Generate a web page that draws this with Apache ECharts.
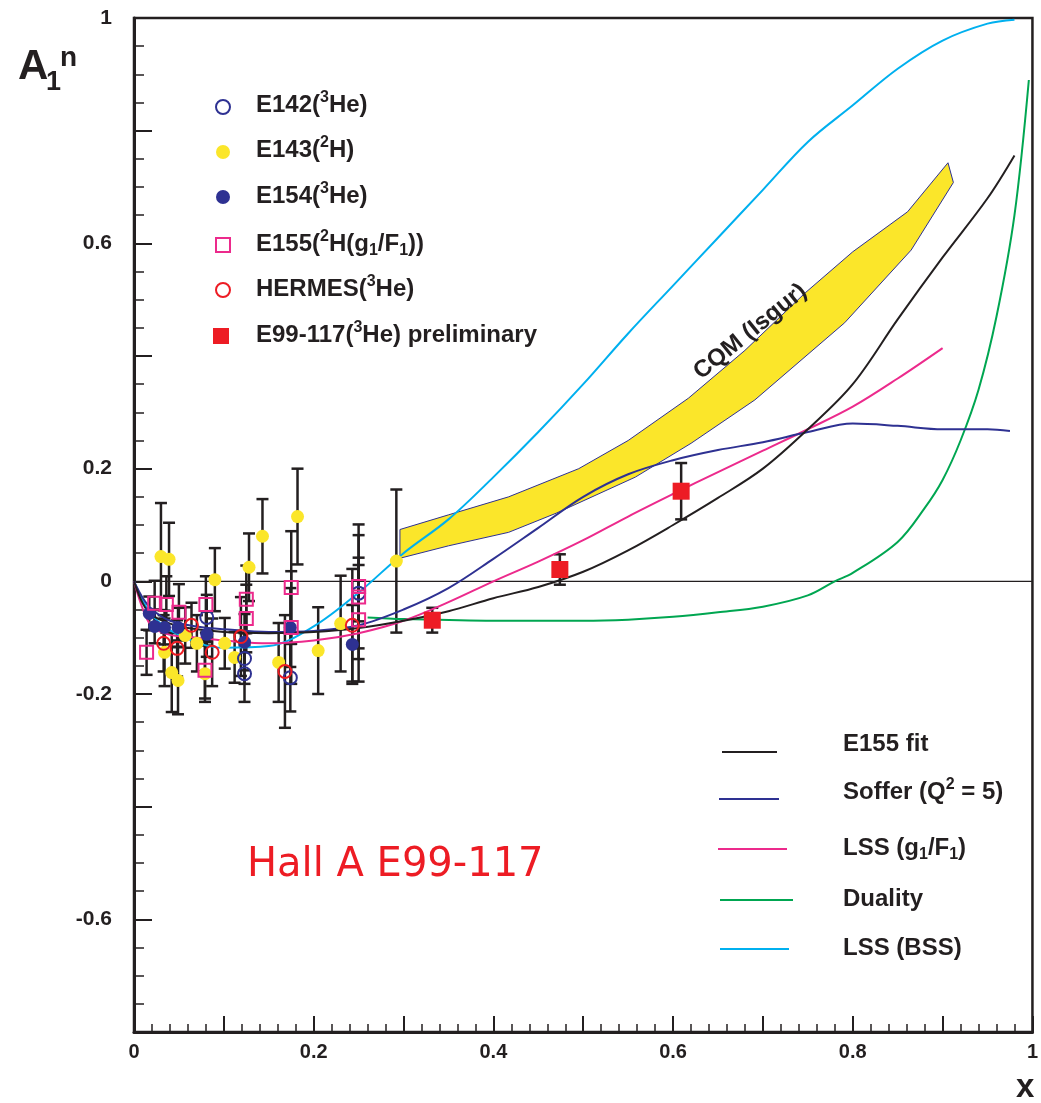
<!DOCTYPE html>
<html>
<head>
<meta charset="utf-8">
<title>A1n vs x</title>
<script src="https://cdn.jsdelivr.net/npm/echarts@6/dist/echarts.min.js"></script>
<style>
  html, body { margin: 0; padding: 0; background: #ffffff; }
  #chart { width: 1041px; height: 1103px; }
</style>
</head>
<body>
<div id="chart"></div>
<script>
// ---- measurements: [x, A1n, error] ----
const e142 = [[0.081, -0.064, 0.04], [0.123, -0.137, 0.045], [0.123, -0.164, 0.05], [0.174, -0.171, 0.06], [0.250, -0.021, 0.05]];
const e143 = [[0.030, 0.044, 0.095], [0.039, 0.039, 0.065], [0.034, -0.126, 0.06], [0.042, -0.162, 0.07], [0.049, -0.176, 0.06],
              [0.057, -0.096, 0.05], [0.070, -0.110, 0.05], [0.079, -0.164, 0.05], [0.090, 0.003, 0.056], [0.101, -0.110, 0.045],
              [0.112, -0.135, 0.045], [0.128, 0.025, 0.06], [0.143, 0.080, 0.066], [0.161, -0.144, 0.07], [0.182, 0.115, 0.085],
              [0.205, -0.123, 0.077], [0.230, -0.075, 0.085], [0.292, 0.036, 0.127]];
const e154 = [[0.017, -0.057, 0.03], [0.023, -0.080, 0.03], [0.034, -0.082, 0.03], [0.049, -0.082, 0.035], [0.081, -0.094, 0.04],
              [0.123, -0.108, 0.05], [0.174, -0.082, 0.07], [0.243, -0.112, 0.07]];
const e155 = [[0.014, -0.126, 0.04], [0.023, -0.039, 0.04], [0.036, -0.041, 0.05], [0.050, -0.055, 0.05], [0.080, -0.041, 0.05],
              [0.079, -0.158, 0.05], [0.125, -0.032, 0.06], [0.125, -0.066, 0.06], [0.175, -0.011, 0.10], [0.175, -0.082, 0.10],
              [0.250, -0.009, 0.11], [0.250, -0.028, 0.11], [0.250, -0.068, 0.11]];
const hermes = [[0.033, -0.110, 0.05], [0.048, -0.119, 0.05], [0.064, -0.078, 0.04], [0.087, -0.126, 0.06], [0.119, -0.098, 0.07],
                [0.168, -0.160, 0.10], [0.243, -0.078, 0.10]];
const e99117 = [[0.332, -0.069, 0.022], [0.474, 0.021, 0.027], [0.609, 0.160, 0.05]];

// ---- model curves: [x, A1n] ----
const e155Fit = [[0, 0], [0.01, -0.04], [0.02, -0.06], [0.04, -0.075], [0.06, -0.083], [0.1, -0.09], [0.15, -0.092], [0.2, -0.09],
                 [0.25, -0.083], [0.3, -0.07], [0.35, -0.053], [0.4, -0.03], [0.45, -0.01], [0.5, 0.017], [0.55, 0.055], [0.6, 0.1],
                 [0.65, 0.148], [0.7, 0.2], [0.75, 0.27], [0.8, 0.35], [0.85, 0.465], [0.9, 0.575], [0.95, 0.68], [0.98, 0.756]];
const soffer = [[0, 0], [0.01, -0.03], [0.02, -0.05], [0.04, -0.07], [0.07, -0.08], [0.1, -0.085], [0.15, -0.09], [0.2, -0.088],
                [0.25, -0.078], [0.3, -0.05], [0.35, -0.012], [0.4, 0.04], [0.45, 0.095], [0.5, 0.15], [0.55, 0.19], [0.6, 0.215],
                [0.65, 0.233], [0.7, 0.247], [0.75, 0.265], [0.8, 0.28], [0.85, 0.276], [0.9, 0.27], [0.95, 0.27], [0.975, 0.267]];
const lssG1F1 = [[0, 0], [0.01, -0.05], [0.02, -0.08], [0.04, -0.095], [0.07, -0.1], [0.1, -0.105], [0.15, -0.11], [0.2, -0.105],
                 [0.25, -0.092], [0.3, -0.07], [0.35, -0.037], [0.4, 0.0], [0.45, 0.035], [0.5, 0.073], [0.55, 0.115], [0.6, 0.155],
                 [0.65, 0.194], [0.7, 0.232], [0.75, 0.27], [0.8, 0.31], [0.85, 0.36], [0.9, 0.414]];
const duality = [[0.26, -0.064], [0.3, -0.067], [0.4, -0.07], [0.5, -0.07], [0.55, -0.068], [0.6, -0.063], [0.65, -0.055],
                 [0.7, -0.045], [0.75, -0.025], [0.78, 0.0], [0.8, 0.015], [0.85, 0.07], [0.88, 0.13], [0.9, 0.18], [0.92, 0.25],
                 [0.94, 0.34], [0.96, 0.47], [0.98, 0.65], [0.996, 0.89]];
const lssBSS = [[0, 0], [0.02, -0.06], [0.05, -0.095], [0.1, -0.118], [0.15, -0.115], [0.2, -0.08], [0.25, -0.02], [0.3, 0.05],
                [0.35, 0.11], [0.4, 0.185], [0.45, 0.265], [0.5, 0.35], [0.55, 0.44], [0.6, 0.525], [0.65, 0.61], [0.7, 0.695],
                [0.75, 0.78], [0.8, 0.845], [0.85, 0.91], [0.9, 0.96], [0.95, 0.99], [0.98, 0.997]];

// CQM (Isgur) band edges
const cqmUpper = [[0.296, 0.092], [0.35, 0.118], [0.417, 0.15], [0.495, 0.2], [0.55, 0.25], [0.617, 0.325], [0.68, 0.41],
                  [0.747, 0.512], [0.8, 0.585], [0.861, 0.656], [0.906, 0.743]];
const cqmLower = [[0.296, 0.041], [0.35, 0.063], [0.417, 0.087], [0.47, 0.121], [0.558, 0.185], [0.62, 0.245], [0.691, 0.322],
                  [0.791, 0.459], [0.865, 0.588], [0.912, 0.708]];

// axis labels that are printed
const xTickLabels = ['0', '0.2', '0.4', '0.6', '0.8', '1'];
const yTickLabels = ['1', '0.6', '0.2', '0', '-0.2', '-0.6'];

const C = {
  black: '#231f20', navy: '#2e3192', yellow: '#fbe62a', pink: '#ec2a8c',
  red: '#ed1c24', green: '#00a651', cyan: '#00b0ef'
};
const FONT = '"Liberation Sans", Arial, Helvetica, sans-serif';

function errorBars(points, z) {
  return {
    type: 'custom', z: z, silent: true,
    data: points,
    encode: { x: 0, y: 1 },
    renderItem: function (params, api) {
      const x = api.value(0), y = api.value(1), e = api.value(2);
      const t = api.coord([x, y + e]), b = api.coord([x, y - e]);
      const cap = 6;
      const st = { stroke: C.black, lineWidth: 2.5 };
      return {
        type: 'group',
        children: [
          { type: 'line', shape: { x1: t[0], y1: t[1], x2: b[0], y2: b[1] }, style: st },
          { type: 'line', shape: { x1: t[0] - cap, y1: t[1], x2: t[0] + cap, y2: t[1] }, style: st },
          { type: 'line', shape: { x1: b[0] - cap, y1: b[1], x2: b[0] + cap, y2: b[1] }, style: st }
        ]
      };
    }
  };
}

function curve(points, color, z) {
  return {
    type: 'line', data: points, smooth: 0.35, showSymbol: false, silent: true, z: z,
    lineStyle: { color: color, width: 2 }
  };
}

function markers(points, symbol, size, fill, stroke, z) {
  return {
    type: 'scatter', silent: true, z: z,
    data: points.map(p => [p[0], p[1]]),
    symbol: symbol, symbolSize: size,
    itemStyle: { color: fill, borderColor: stroke, borderWidth: stroke ? 2 : 0, opacity: 1 }
  };
}

const bandSeries = {
  type: 'custom', z: 1, silent: true,
  data: [[0.6, 0.3]],
  encode: { x: 0, y: 1 },
  renderItem: function (params, api) {
    const pts = cqmUpper.map(p => api.coord(p)).concat(cqmLower.slice().reverse().map(p => api.coord(p)));
    const lp = api.coord([0.686, 0.443]);
    return {
      type: 'group',
      children: [
        { type: 'polygon', shape: { points: pts }, style: { fill: C.yellow, stroke: C.navy, lineWidth: 1 } },
        { type: 'text', x: lp[0], y: lp[1], rotation: 0.68,
          style: { text: 'CQM (Isgur)', font: 'bold 24px ' + FONT, fill: C.black, align: 'center', verticalAlign: 'middle' } }
      ]
    };
  }
};

const zeroLine = {
  type: 'line', data: [[0, 0], [1, 0]], showSymbol: false, silent: true, z: 2,
  lineStyle: { color: C.black, width: 1.2 }
};

// ---- legend pieces ----
const main = { fontSize: 24, fontWeight: 'bold', fontFamily: FONT, fill: C.black, lineHeight: 30 };
const sup = { fontSize: 16, fontWeight: 'bold', fontFamily: FONT, fill: C.black, lineHeight: 16, verticalAlign: 'top' };
const sub = { fontSize: 16, fontWeight: 'bold', fontFamily: FONT, fill: C.black, lineHeight: 16, verticalAlign: 'bottom' };
const rich = { m: main, s: sup, b: sub };

function label(x, y, text) {
  return { type: 'text', x: x, y: y, z: 100,
    style: { text: text, rich: rich, verticalAlign: 'middle', align: 'left', font: 'bold 24px ' + FONT } };
}

const markerLegend = [
  { type: 'circle', shape: { cx: 223, cy: 107, r: 7 }, style: { fill: 'rgba(0,0,0,0)', stroke: C.navy, lineWidth: 2 } },
  label(256, 105, '{m|E142(}{s|3}{m|He)}'),
  { type: 'circle', shape: { cx: 223, cy: 152, r: 7 }, style: { fill: C.yellow } },
  label(256, 150, '{m|E143(}{s|2}{m|H)}'),
  { type: 'circle', shape: { cx: 223, cy: 197, r: 7 }, style: { fill: C.navy } },
  label(256, 196, '{m|E154(}{s|3}{m|He)}'),
  { type: 'rect', shape: { x: 216, y: 238, width: 14, height: 14 }, style: { fill: 'rgba(0,0,0,0)', stroke: C.pink, lineWidth: 2 } },
  label(256, 244, '{m|E155(}{s|2}{m|H(g}{b|1}{m|/F}{b|1}{m|))}'),
  { type: 'circle', shape: { cx: 223, cy: 290, r: 7 }, style: { fill: 'rgba(0,0,0,0)', stroke: C.red, lineWidth: 2 } },
  label(256, 289, '{m|HERMES(}{s|3}{m|He)}'),
  { type: 'rect', shape: { x: 213, y: 328, width: 16, height: 16 }, style: { fill: C.red } },
  label(256, 335, '{m|E99-117(}{s|3}{m|He) preliminary}')
];

const lineLegend = [
  { type: 'line', shape: { x1: 722, y1: 752, x2: 777, y2: 752 }, style: { stroke: C.black, lineWidth: 2 } },
  label(843, 744, '{m|E155 fit}'),
  { type: 'line', shape: { x1: 719, y1: 799, x2: 779, y2: 799 }, style: { stroke: C.navy, lineWidth: 2 } },
  label(843, 792, '{m|Soffer (Q}{s|2}{m| = 5)}'),
  { type: 'line', shape: { x1: 718, y1: 849, x2: 787, y2: 849 }, style: { stroke: C.pink, lineWidth: 2 } },
  label(843, 848, '{m|LSS (g}{b|1}{m|/F}{b|1}{m|)}'),
  { type: 'line', shape: { x1: 720, y1: 900, x2: 793, y2: 900 }, style: { stroke: C.green, lineWidth: 2 } },
  label(843, 899, '{m|Duality}'),
  { type: 'line', shape: { x1: 720, y1: 949, x2: 789, y2: 949 }, style: { stroke: C.cyan, lineWidth: 2 } },
  label(843, 948, '{m|LSS (BSS)}')
];

const titles = [
  { type: 'text', x: 18, y: 88, style: { text: 'A', font: 'bold 42px ' + FONT, fill: C.black, verticalAlign: 'bottom' } },
  { type: 'text', x: 46, y: 96, style: { text: '1', font: 'bold 27px ' + FONT, fill: C.black, verticalAlign: 'bottom' } },
  { type: 'text', x: 60, y: 72, style: { text: 'n', font: 'bold 28px ' + FONT, fill: C.black, verticalAlign: 'bottom' } },
  { type: 'text', x: 1016, y: 1104, style: { text: 'x', font: 'bold 33px ' + FONT, fill: C.black, verticalAlign: 'bottom' } },
  { type: 'text', x: 247, y: 866, style: { text: 'Hall A E99-117', font: '40px "DejaVu Sans", sans-serif', fill: C.red, verticalAlign: 'middle' } }
];

const chart = echarts.init(document.getElementById('chart'), null, { renderer: 'canvas' });
chart.setOption({
  animation: false,
  backgroundColor: '#ffffff',
  grid: { left: 134, right: 6, top: 18, bottom: 71, show: true, borderColor: C.black, borderWidth: 2.5, backgroundColor: 'rgba(0,0,0,0)' },
  xAxis: {
    type: 'value', min: 0, max: 1, interval: 0.1,
    axisLine: { show: true, onZero: false, lineStyle: { color: C.black, width: 3 } },
    axisTick: { show: true, inside: true, length: 16, lineStyle: { color: C.black, width: 2 } },
    minorTick: { show: true, splitNumber: 5, length: 8, lineStyle: { color: C.black, width: 1.5 } },
    splitLine: { show: false },
    axisLabel: {
      margin: 10, color: C.black, fontFamily: FONT, fontWeight: 'bold', fontSize: 20,
      formatter: function (v) { const s = String(Math.round(v * 10) / 10); return xTickLabels.indexOf(s) >= 0 ? s : ''; }
    }
  },
  yAxis: {
    type: 'value', min: -0.8, max: 1, interval: 0.2,
    axisLine: { show: true, onZero: false, lineStyle: { color: C.black, width: 3 } },
    axisTick: { show: true, inside: true, length: 18, lineStyle: { color: C.black, width: 2 } },
    minorTick: { show: true, splitNumber: 4, length: 10, lineStyle: { color: C.black, width: 1.5 } },
    splitLine: { show: false },
    axisLabel: {
      margin: 22, color: C.black, fontFamily: FONT, fontWeight: 'bold', fontSize: 21,
      formatter: function (v) { const s = String(Math.round(v * 10) / 10); return yTickLabels.indexOf(s) >= 0 ? s : ''; }
    }
  },
  graphic: markerLegend.concat(lineLegend, titles),
  series: [
    bandSeries,
    zeroLine,
    errorBars(e143, 3), errorBars(e142, 3), errorBars(e154, 3), errorBars(e155, 3), errorBars(hermes, 3), errorBars(e99117, 3),
    curve(duality, C.green, 4),
    curve(lssBSS, C.cyan, 4),
    curve(lssG1F1, C.pink, 4),
    curve(soffer, C.navy, 4),
    curve(e155Fit, C.black, 4),
    markers(e143, 'circle', 13, C.yellow, null, 6),
    markers(e154, 'circle', 13, C.navy, null, 6),
    markers(e142, 'circle', 13, 'rgba(0,0,0,0)', C.navy, 7),
    markers(e155, 'rect', 13, 'rgba(0,0,0,0)', C.pink, 7),
    markers(hermes, 'circle', 13, 'rgba(0,0,0,0)', C.red, 7),
    markers(e99117, 'rect', 17, C.red, null, 8)
  ]
});
</script>
</body>
</html>
